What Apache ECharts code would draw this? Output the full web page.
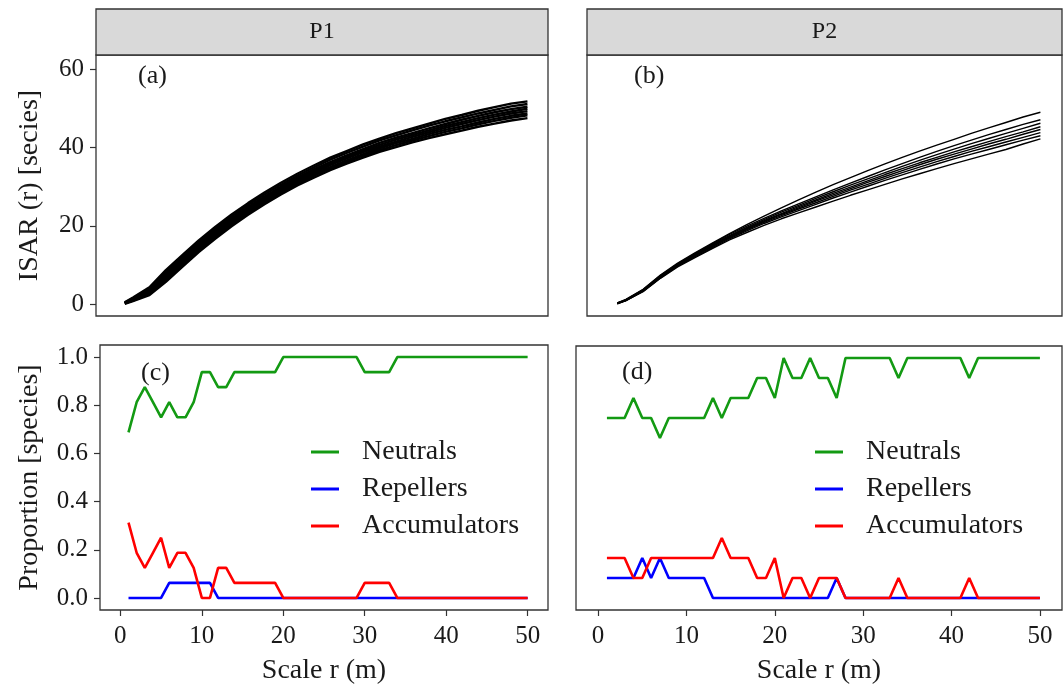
<!DOCTYPE html>
<html><head><meta charset="utf-8">
<script src="https://cdn.jsdelivr.net/npm/echarts@6/dist/echarts.min.js"></script>
<style>html,body{margin:0;padding:0;background:#fff}#c{width:1063px;height:686px}</style>
</head><body><div id="c"></div><script>
// ---------- data ----------
const R_ISAR = [1,2,4,6,8,10,12,14,16,18,20,22,24,26,28,30,32,34,36,38,40,42,44,46,48,50];
// P1 ISAR simulations
const p1Sim1 = [0.5,1.7,4.3,8.7,12.5,16.3,19.7,22.9,25.8,28.5,31.0,33.3,35.4,37.4,39.1,40.8,42.3,43.7,44.9,46.1,47.3,48.3,49.4,50.3,51.2,51.8];
const p1Sim2 = [0.4,1.5,4.0,8.2,12.0,15.8,19.2,22.4,25.3,28.0,30.5,32.8,34.9,36.9,38.6,40.2,41.8,43.1,44.4,45.6,46.7,47.7,48.7,49.6,50.5,51.1];
const p1Sim3 = [0.3,1.4,3.6,7.7,11.5,15.3,18.7,21.9,24.8,27.5,30.0,32.3,34.4,36.3,38.0,39.6,41.2,42.5,43.7,44.9,46.0,47.1,48.1,49.0,49.8,50.4];
const p1Sim4 = [0.3,1.3,3.4,7.3,11.1,14.9,18.3,21.5,24.4,27.1,29.6,31.9,34.0,35.9,37.6,39.2,40.7,42.0,43.2,44.4,45.5,46.5,47.5,48.4,49.2,49.9];
const p1Sim5 = [0.3,1.1,3.1,6.9,10.7,14.5,17.9,21.1,24.0,26.7,29.2,31.5,33.6,35.5,37.2,38.8,40.2,41.5,42.7,43.9,45.0,46.0,47.0,47.9,48.7,49.3];
const p1Sim6 = [0.2,1.0,2.8,6.5,10.3,14.1,17.5,20.7,23.6,26.3,28.8,31.1,33.2,35.0,36.7,38.3,39.8,41.1,42.2,43.4,44.5,45.4,46.4,47.3,48.1,48.7];
const p1Sim7 = [0.2,0.9,2.6,6.1,9.9,13.7,17.1,20.3,23.2,25.9,28.4,30.7,32.8,34.6,36.3,37.9,39.3,40.6,41.8,42.9,44.0,44.9,45.9,46.8,47.6,48.2];
const p1Sim8 = [0.1,0.8,2.3,5.7,9.5,13.3,16.7,19.9,22.8,25.5,28.0,30.3,32.3,34.2,35.9,37.4,38.9,40.1,41.3,42.4,43.4,44.3,45.3,46.1,46.9,47.5];
// P2 ISAR simulations
const p2Sim1 = [0.3,1.2,3.8,7.4,10.5,13.1,15.6,18.0,20.3,22.5,24.6,26.6,28.6,30.5,32.3,34.1,35.8,37.5,39.1,40.6,42.1,43.6,45.0,46.4,47.8,49.0];
const p2Sim2 = [0.3,1.1,3.7,7.3,10.3,12.9,15.4,17.8,19.9,21.9,23.8,25.6,27.4,29.2,30.9,32.6,34.3,35.9,37.5,39.0,40.5,41.9,43.3,44.6,45.9,47.1];
const p2Sim3 = [0.2,1.1,3.6,7.1,10.2,12.7,15.2,17.5,19.6,21.6,23.5,25.2,27.0,28.7,30.4,32.0,33.6,35.2,36.7,38.2,39.6,41.0,42.3,43.6,44.9,46.2];
const p2Sim4 = [0.2,1.0,3.5,7.0,10.1,12.6,15.0,17.3,19.4,21.3,23.1,24.9,26.6,28.3,29.9,31.5,33.1,34.6,36.1,37.5,38.9,40.2,41.5,42.8,44.0,45.3];
const p2Sim5 = [0.2,1.0,3.4,6.9,9.9,12.4,14.8,17.1,19.2,21.1,22.9,24.6,26.3,27.9,29.5,31.1,32.6,34.1,35.6,37.0,38.3,39.6,40.9,42.1,43.4,44.6];
const p2Sim6 = [0.2,0.9,3.4,6.8,9.8,12.3,14.6,16.9,19.0,20.9,22.6,24.3,25.9,27.5,29.1,30.6,32.1,33.6,35.0,36.4,37.7,39.0,40.2,41.4,42.6,43.8];
const p2Sim7 = [0.1,0.9,3.3,6.7,9.7,12.1,14.4,16.7,18.7,20.6,22.3,23.9,25.5,27.1,28.6,30.1,31.6,33.0,34.4,35.8,37.1,38.3,39.5,40.7,41.9,43.0];
const p2Sim8 = [0.1,0.9,3.2,6.6,9.5,11.9,14.2,16.4,18.3,20.1,21.8,23.3,24.8,26.3,27.8,29.2,30.6,32.0,33.3,34.6,35.9,37.1,38.3,39.5,40.9,42.2];

const R_PROP = [1,2,3,4,5,6,7,8,9,10,11,12,13,14,15,16,17,18,19,20,21,22,23,24,25,26,27,28,29,30,31,32,33,34,35,36,37,38,39,40,41,42,43,44,45,46,47,48,49,50];
const p1Neutrals = [0.6875,0.8125,0.875,0.8125,0.75,0.8125,0.75,0.75,0.8125,0.9375, 0.9375,0.875,0.875,0.9375,0.9375,0.9375,0.9375,0.9375,0.9375,1, 1,1,1,1,1,1,1,1,1,0.9375, 0.9375,0.9375,0.9375,1,1,1,1,1,1,1, 1,1,1,1,1,1,1,1,1,1];
const p1Repellers = [0,0,0,0,0,0.0625,0.0625,0.0625,0.0625,0.0625, 0.0625,0,0,0,0,0,0,0,0,0, 0,0,0,0,0,0,0,0,0,0, 0,0,0,0,0,0,0,0,0,0, 0,0,0,0,0,0,0,0,0,0];
const p1Accumulators = [0.3125,0.1875,0.125,0.1875,0.25,0.125,0.1875,0.1875,0.125,0, 0,0.125,0.125,0.0625,0.0625,0.0625,0.0625,0.0625,0.0625,0, 0,0,0,0,0,0,0,0,0,0.0625, 0.0625,0.0625,0.0625,0,0,0,0,0,0,0, 0,0,0,0,0,0,0,0,0,0];
const p2Neutrals = [0.75,0.75,0.75,0.8333,0.75,0.75,0.6667,0.75,0.75,0.75, 0.75,0.75,0.8333,0.75,0.8333,0.8333,0.8333,0.9167,0.9167,0.8333, 1,0.9167,0.9167,1,0.9167,0.9167,0.8333,1,1,1, 1,1,1,0.9167,1,1,1,1,1,1, 1,0.9167,1,1,1,1,1,1,1,1];
const p2Repellers = [0.0833,0.0833,0.0833,0.0833,0.1667,0.0833,0.1667,0.0833,0.0833,0.0833, 0.0833,0.0833,0,0,0,0,0,0,0,0, 0,0,0,0,0,0,0.0833,0,0,0, 0,0,0,0,0,0,0,0,0,0, 0,0,0,0,0,0,0,0,0,0];
const p2Accumulators = [0.1667,0.1667,0.1667,0.0833,0.0833,0.1667,0.1667,0.1667,0.1667,0.1667, 0.1667,0.1667,0.1667,0.25,0.1667,0.1667,0.1667,0.0833,0.0833,0.1667, 0,0.0833,0.0833,0,0.0833,0.0833,0.0833,0,0,0, 0,0,0,0.0833,0,0,0,0,0,0, 0,0.0833,0,0,0,0,0,0,0,0];

const X_TICKS = [0,10,20,30,40,50];
const Y_TICKS_ISAR = [0,20,40,60];
const Y_TICKS_PROP = [0,0.2,0.4,0.6,0.8,1.0];
const PANELS = ['P1','P2'];
const TAGS = ['(a)','(b)','(c)','(d)'];
const GROUPS = ['Neutrals','Repellers','Accumulators'];
const COLORS = {Neutrals:'#139a13', Repellers:'#0000ff', Accumulators:'#ff0000'};

// ---------- build ----------
const FONT = "'Liberation Serif','Times New Roman','DejaVu Serif',serif";
const TXT = '#1a1a1a';
const zip = (xs, ys) => xs.map((x, i) => [x, ys[i]]);

const grids = [
  {left:96, top:55, width:452, height:261},
  {left:587, top:55, width:475, height:261},
  {left:100, top:345, width:448, height:265},
  {left:576, top:346, width:486, height:264}
].map(g => Object.assign(g, {show:true, borderColor:'#333', borderWidth:1.3, backgroundColor:'#fff', containLabel:false}));

function xAx(i, labels){
  return {
    gridIndex:i, type:'value', min:-2.5, max:52.5,
    axisLine:{show:false, onZero:false}, splitLine:{show:false},
    axisTick:{show:labels, customValues:X_TICKS, length:6, lineStyle:{color:'#333', width:1.2}},
    axisLabel:{show:labels, customValues:X_TICKS, fontSize:25, fontFamily:FONT, color:TXT, margin:14},
    name: labels ? 'Scale r (m)' : '', nameLocation:'middle', nameGap:47,
    nameTextStyle:{fontSize:28, fontFamily:FONT, color:TXT}
  };
}
function yAx(i, isar, labels){
  return {
    gridIndex:i, type:'value',
    min: isar ? -3.03 : -0.05, max: isar ? 63.63 : 1.05,
    axisLine:{show:false, onZero:false}, splitLine:{show:false},
    axisTick:{show:labels, customValues: isar ? Y_TICKS_ISAR : Y_TICKS_PROP, length:6, lineStyle:{color:'#333', width:1.2}},
    axisLabel:{show:labels, customValues: isar ? Y_TICKS_ISAR : Y_TICKS_PROP, fontSize:25, fontFamily:FONT, color:TXT, margin:12,
      formatter: v => isar ? String(v) : v.toFixed(1)},
    name: labels ? (isar ? 'ISAR (r) [secies]' : 'Proportion [species]') : '',
    nameLocation:'middle', nameGap: isar ? 52 : 56,
    nameTextStyle:{fontSize:28, fontFamily:FONT, color:TXT}
  };
}

const series = [];
[p1Sim1,p1Sim2,p1Sim3,p1Sim4,p1Sim5,p1Sim6,p1Sim7,p1Sim8].forEach(s => series.push({
  type:'line', xAxisIndex:0, yAxisIndex:0, data:zip(R_ISAR, s), showSymbol:false, silent:true,
  lineStyle:{color:'#000', width:2.4}, z:3
}));
[p2Sim1,p2Sim2,p2Sim3,p2Sim4,p2Sim5,p2Sim6,p2Sim7,p2Sim8].forEach(s => series.push({
  type:'line', xAxisIndex:1, yAxisIndex:1, data:zip(R_ISAR, s), showSymbol:false, silent:true,
  lineStyle:{color:'#000', width:1.4}, z:3
}));
const propSets = [[p1Neutrals,p1Repellers,p1Accumulators],[p2Neutrals,p2Repellers,p2Accumulators]];
propSets.forEach((set, k) => set.forEach((vals, j) => {
  const nm = GROUPS[j];
  series.push({
    name:nm, type:'line', xAxisIndex:2+k, yAxisIndex:2+k, data:zip(R_PROP, vals),
    showSymbol:false, silent:true, color:COLORS[nm],
    itemStyle:{color:COLORS[nm]}, lineStyle:{color:COLORS[nm], width:2.6}, z:3+j
  });
}));

const legendBase = {
  data:GROUPS, orient:'vertical', icon:'rect', itemWidth:28, itemHeight:3, itemGap:7,
  padding:0, selectedMode:false,
  textStyle:{fontSize:28, fontFamily:FONT, color:TXT, lineHeight:30, padding:[0,0,0,18]}
};

const tagPos = [[138,63],[634,63],[141,360],[622,359]];
const titles = TAGS.map((t,i) => ({
  text:t, left:tagPos[i][0], top:tagPos[i][1], padding:0,
  textStyle:{fontSize:26, fontWeight:'normal', fontFamily:FONT, color:TXT}
}));

const stripDefs = [{x:96, w:452}, {x:587, w:475}];
const graphic = [];
stripDefs.forEach((s, i) => {
  graphic.push({type:'rect', shape:{x:s.x, y:9, width:s.w, height:46},
    style:{fill:'#d9d9d9', stroke:'#333', lineWidth:1.3}, silent:true, z:10});
  graphic.push({type:'text', x:s.x + s.w/2, y:32,
    style:{text:PANELS[i], fontSize:24, fontFamily:FONT, fill:TXT, textAlign:'center', textVerticalAlign:'middle'},
    silent:true, z:11});
});

const chart = echarts.init(document.getElementById('c'), null, {renderer:'canvas'});
chart.setOption({
  animation:false,
  backgroundColor:'#fff',
  title:titles,
  grid:grids,
  xAxis:[xAx(0,false), xAx(1,false), xAx(2,true), xAx(3,true)],
  yAxis:[yAx(0,true,true), yAx(1,true,false), yAx(2,false,true), yAx(3,false,false)],
  legend:[Object.assign({left:311, top:437}, legendBase), Object.assign({left:815, top:437}, legendBase)],
  series:series,
  graphic:graphic
});
</script></body></html>
